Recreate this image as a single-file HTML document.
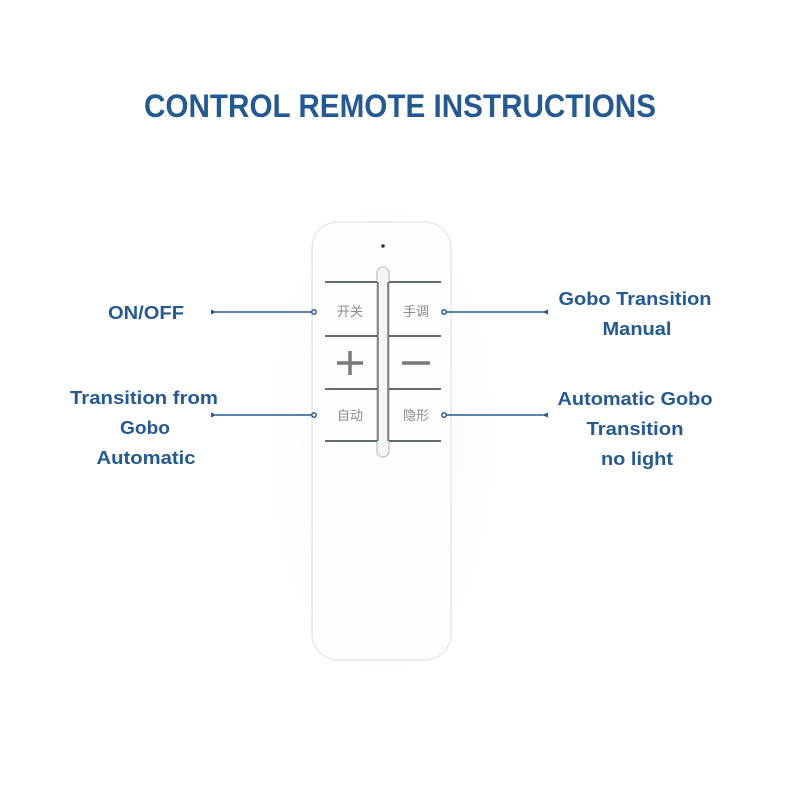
<!DOCTYPE html>
<html><head><style>
html,body{margin:0;padding:0;background:#fff;width:800px;height:800px;overflow:hidden}
</style></head><body>
<svg width="800" height="800" viewBox="0 0 800 800" xmlns="http://www.w3.org/2000/svg" font-family="Liberation Sans, sans-serif">
<defs>
<radialGradient id="sh" cx="50%" cy="50%" r="50%">
<stop offset="0%" stop-color="#e9ecf0" stop-opacity="0.9"/>
<stop offset="100%" stop-color="#ffffff" stop-opacity="0"/>
</radialGradient>
<marker id="ar" markerWidth="6" markerHeight="6" refX="1" refY="3" orient="auto-start-reverse" markerUnits="userSpaceOnUse">
<path d="M0,3 L6,0.5 L6,5.5 Z" fill="#2a5b8f"/>
</marker>
</defs>
<rect width="800" height="800" fill="#fff"/>
<ellipse cx="382" cy="440" rx="130" ry="270" fill="url(#sh)"/>
<g fill="#245a91" font-weight="bold">
<text x="144" y="117" font-size="32" textLength="512" lengthAdjust="spacingAndGlyphs">CONTROL REMOTE INSTRUCTIONS</text>
<g font-size="18" text-anchor="middle">
<text x="146" y="319" textLength="76" lengthAdjust="spacingAndGlyphs">ON/OFF</text>
<text x="144" y="404" textLength="148" lengthAdjust="spacingAndGlyphs">Transition from</text>
<text x="145" y="434" textLength="50" lengthAdjust="spacingAndGlyphs">Gobo</text>
<text x="146" y="464" textLength="99" lengthAdjust="spacingAndGlyphs">Automatic</text>
<text x="635" y="305" textLength="153" lengthAdjust="spacingAndGlyphs">Gobo Transition</text>
<text x="637" y="335" textLength="69" lengthAdjust="spacingAndGlyphs">Manual</text>
<text x="635" y="405" textLength="155" lengthAdjust="spacingAndGlyphs">Automatic Gobo</text>
<text x="635" y="435" textLength="97" lengthAdjust="spacingAndGlyphs">Transition</text>
<text x="637" y="465" textLength="72" lengthAdjust="spacingAndGlyphs">no light</text>
</g>
</g>
<!-- remote -->
<rect x="312" y="222" width="139" height="438" rx="26" fill="#fdfdfd" stroke="#e6e8eb" stroke-width="1.5"/>
<circle cx="383" cy="246" r="1.8" fill="#333"/>
<rect x="377" y="267" width="12" height="190" rx="6" fill="#f6f6f6" stroke="#c9cccc" stroke-width="1.5"/>
<g stroke="#2f3d38" stroke-width="1.6">
<line x1="325" y1="282" x2="377" y2="282"/><line x1="389" y1="282" x2="441" y2="282"/>
<line x1="325" y1="336" x2="377" y2="336"/><line x1="389" y1="336" x2="441" y2="336"/>
<line x1="325" y1="389" x2="377" y2="389"/><line x1="389" y1="389" x2="441" y2="389"/>
<line x1="325" y1="441" x2="377" y2="441"/><line x1="389" y1="441" x2="441" y2="441"/>
<line x1="378" y1="282" x2="378" y2="441" stroke-width="1"/>
<line x1="388" y1="282" x2="388" y2="441" stroke-width="1"/>
</g>
<g fill="#8a8a8a" font-size="13" font-family="Noto Sans CJK SC, sans-serif" text-anchor="middle">
<text x="350" y="316">开关</text>
<text x="416" y="316">手调</text>
<text x="350" y="420">自动</text>
<text x="416" y="420">隐形</text>
</g>
<g stroke="#7a7a7a" stroke-width="3.5">
<line x1="337" y1="363" x2="363" y2="363"/><line x1="350" y1="351" x2="350" y2="375"/>
<line x1="402" y1="363" x2="430" y2="363"/>
</g>
<!-- connectors -->
<g stroke="#2a5b8f" stroke-width="1.5" fill="#fff">
<line x1="216" y1="312" x2="312" y2="312" marker-start="url(#ar)"/>
<line x1="216" y1="415" x2="312" y2="415" marker-start="url(#ar)"/>
<line x1="446" y1="312" x2="543" y2="312" marker-end="url(#ar)"/>
<line x1="446" y1="415" x2="543" y2="415" marker-end="url(#ar)"/>
<circle cx="314" cy="312" r="2.2"/><circle cx="314" cy="415" r="2.2"/>
<circle cx="444" cy="312" r="2.2"/><circle cx="444" cy="415" r="2.2"/>
</g>
</svg>
</body></html>
